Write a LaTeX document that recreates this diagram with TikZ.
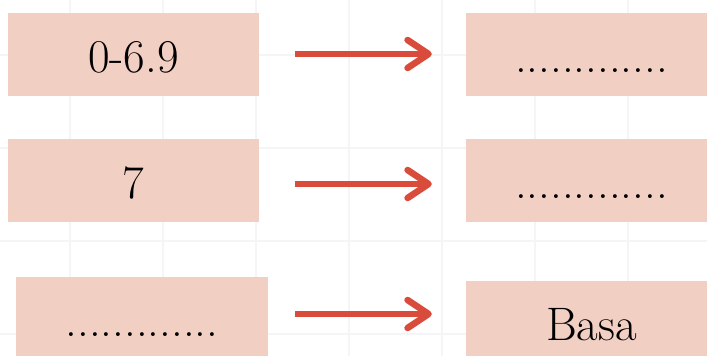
\documentclass[tikz,border=0pt]{standalone}
\usetikzlibrary{arrows.meta}
\definecolor{boxfill}{RGB}{242,207,195}
\definecolor{arrowred}{RGB}{217,76,60}
\definecolor{gridgray}{RGB}{245,245,247}
\begin{document}
\begin{tikzpicture}[x=1pt,y=-1pt,
  box/.style={fill=boxfill, draw=none, inner sep=0pt, minimum width=251pt,
    minimum height=83pt, text height=36pt, text depth=0pt,
    font=\fontsize{47}{50}\selectfont},
  conn/.style={draw=arrowred, line width=6.5pt,
    -{Straight Barb[length=21pt,width=28pt,round]}},
  gridline/.style={draw=gridgray, line width=1.2pt}]
\fill[white] (0,0) rectangle (707,356);
\useasboundingbox (0,0) rectangle (707,356);
\foreach \gx in {70,163,256,349,442,535,628}
  \draw[gridline] (\gx,0) -- (\gx,356);
\foreach \gy in {55,148,241,334}
  \draw[gridline] (0,\gy) -- (707,\gy);
\node[box] (a1) at (133.5,54.5) {0-6.9};
\node[box] (b1) at (591.5,54.5) {.............};
\node[box] (a2) at (133.5,180.5) {7};
\node[box] (b2) at (591.5,180.5) {.............};
\node[box, minimum width=252pt] (a3) at (142,318.5) {.............};
\node[box] (b3) at (591.5,322.5) {Basa};
\draw[conn, shorten <=36pt, shorten >=34pt] ([yshift=0.5pt]a1.east) -- ([yshift=0.5pt]a1.east -| b1.west);
\draw[conn, shorten <=36pt, shorten >=34pt] ([yshift=-3.5pt]a2.east) -- ([yshift=-3.5pt]a2.east -| b2.west);
\draw[conn, shorten <=27pt, shorten >=34pt] ([yshift=4.5pt]a3.east) -- ([yshift=4.5pt]a3.east -| b3.west);
\end{tikzpicture}
\end{document}
